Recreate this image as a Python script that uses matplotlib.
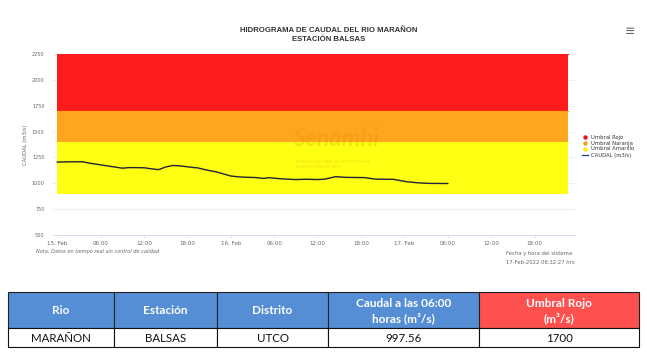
import numpy as np
import matplotlib
matplotlib.use("Agg")
import matplotlib.pyplot as plt
from matplotlib.patches import Rectangle

# ---- data ------------------------------------------------------------------
hours = [0, 2, 3.5, 4.5, 6, 7.5, 9, 10, 12, 13, 14, 15, 16, 17, 18.5, 19.5,
         20.5, 22, 23, 24, 25.5, 27.5, 28.5, 29.3, 31, 33, 34.5, 36, 37, 38.5,
         40, 42.5, 44, 46.5, 48.3, 50, 51.5, 54]
caudal = [1205, 1208, 1208, 1194, 1178, 1162, 1146, 1152, 1150, 1140, 1132,
          1158, 1172, 1168, 1155, 1148, 1130, 1110, 1090, 1070, 1060, 1055,
          1047, 1054, 1043, 1036, 1039, 1036, 1040, 1064, 1057, 1055, 1040,
          1038, 1015, 1004, 999, 997.56]

band_names = ["Umbral Rojo", "Umbral Naranja", "Umbral Amarillo"]
band_low = [1700, 1400, 900]
band_high = [2250, 1700, 1400]
band_colors = ["#ff1c1c", "#ffa51e", "#ffff14"]
band_span = [0, 70.6]

xtick_hours = [0, 6, 12, 18, 24, 30, 36, 42, 48, 54, 60, 66]
xtick_labels = ["15. Feb", "06:00", "12:00", "18:00", "16. Feb", "06:00",
                "12:00", "18:00", "17. Feb", "06:00", "12:00", "18:00"]
yticks = [500, 750, 1000, 1250, 1500, 1750, 2000, 2250]

tbl_headers = ["Rio", "Estación", "Distrito", "Caudal a las 06:00\nhoras (m³/s)",
               "Umbral Rojo\n(m³/s)"]
tbl_row = ["MARAÑON", "BALSAS", "UTCO", "997.56", "1700"]
tbl_head_colors = ["#558ed5", "#558ed5", "#558ed5", "#558ed5", "#ff5050"]

# ---- figure ----------------------------------------------------------------
W, H = 647, 354
fig = plt.figure(figsize=(W / 100, H / 100), dpi=100)
fig.patch.set_facecolor("white")

ax = fig.add_axes([53 / W, 1 - 235 / H, 522 / W, 181 / H])
ax.set_xlim(-0.6, 71.6)
ax.set_ylim(500, 2250)

for lo, hi, c in zip(band_low, band_high, band_colors):
    ax.fill_between(band_span, [lo, lo], [hi, hi], color=c, lw=0, zorder=1)
    ax.plot(band_span, [hi, hi], color=c, lw=0.8, zorder=1.5)

# watermark (faint logo text)
ax.text(38.5, 1430, "Senamhi", fontsize=17, fontweight="bold", style="italic",
        color="#d89a00", alpha=0.28, ha="center", va="center", zorder=2,
        family="Lato")
ax.text(33, 1180, "SERVICIO NACIONAL DE METEOROLOGÍA\nE HIDROLOGÍA DEL PERÚ",
        fontsize=2.6, color="#d0a000", alpha=0.35, ha="left", va="center",
        zorder=2, linespacing=1.4)

ax.plot(hours, caudal, color="#23233a", lw=1.0, zorder=3)

ax.set_yticks(yticks)
ax.set_xticks(xtick_hours)
ax.set_xticklabels(xtick_labels)
ax.tick_params(axis="y", length=0, labelsize=3.6, labelcolor="#666666", pad=6)
ax.tick_params(axis="x", length=2, width=0.4, color="#ccd6eb", labelsize=4,
               labelcolor="#666666", pad=2)
ax.grid(axis="y", color="#e6e6e6", lw=0.5, zorder=0)
ax.set_axisbelow(True)
for s in ("top", "right", "left"):
    ax.spines[s].set_visible(False)
ax.spines["bottom"].set_color("#ccd6eb")
ax.spines["bottom"].set_linewidth(0.6)

# ---- overlay in pixel coords ---------------------------------------------
ov = fig.add_axes([0, 0, 1, 1], zorder=5)
ov.set_xlim(0, W)
ov.set_ylim(H, 0)
ov.axis("off")
ov.patch.set_alpha(0)

ov.text(26, 145, "CAUDAL (m3/s)", fontsize=3.8, color="#666666", rotation=90,
        ha="center", va="center")

ov.text(329, 31, "HIDROGRAMA DE CAUDAL DEL RIO MARAÑON", fontsize=5.6,
        fontweight="bold", ha="center", va="center", color="#333333",
        family="Liberation Sans")
ov.text(329, 39.5, "ESTACIÓN BALSAS", fontsize=5.6, fontweight="bold",
        ha="center", va="center", color="#333333", family="Liberation Sans")
ov.text(630, 32, "≡", fontsize=9, ha="center", va="center", color="#666666")

# legend
leg_y = [137, 143, 149, 155]
for y, name, c in zip(leg_y, band_names, ["#e8121a", "#f2a020", "#f7ee10"]):
    ov.plot([585], [y], "o", ms=3.2, color=c, mec="none")
    ov.text(591, y, name, fontsize=3.8, va="center", color="#333333")
ov.plot([582, 588], [leg_y[3], leg_y[3]], color="#1f3a93", lw=0.9)
ov.text(591, leg_y[3], "CAUDAL (m3/s)", fontsize=3.8, va="center",
        color="#333333")

ov.text(36, 252, "Nota: Datos en tiempo real sin control de calidad",
        fontsize=3.6, style="italic", va="center", color="#666666")
ov.text(506, 253.5, "Fecha y hora del sistema", fontsize=3.8, va="center",
        color="#666666")
ov.text(506, 262, "17-Feb-2022 06:32:27 hrs", fontsize=3.8, va="center",
        color="#666666")

# ---- table -----------------------------------------------------------------
cols = [8, 114, 217, 328, 479, 639]
y0, y1, y2 = 292, 328, 347
for i in range(5):
    xa, xb = cols[i], cols[i + 1]
    ov.add_patch(Rectangle((xa, y0), xb - xa, y1 - y0,
                           facecolor=tbl_head_colors[i], edgecolor="#222222",
                           lw=0.8))
    ov.add_patch(Rectangle((xa, y1), xb - xa, y2 - y1, facecolor="white",
                           edgecolor="#111111", lw=0.8))
    ov.text((xa + xb) / 2, (y0 + y1) / 2 + 1, tbl_headers[i], fontsize=8.5,
            fontweight="bold", color="white", ha="center", va="center",
            family="Lato", linespacing=1.35)
    ov.text((xa + xb) / 2, (y1 + y2) / 2 + 0.5, tbl_row[i], fontsize=8.3,
            color="#111111", ha="center", va="center", family="Lato")

fig.savefig("out.png", dpi=100)
